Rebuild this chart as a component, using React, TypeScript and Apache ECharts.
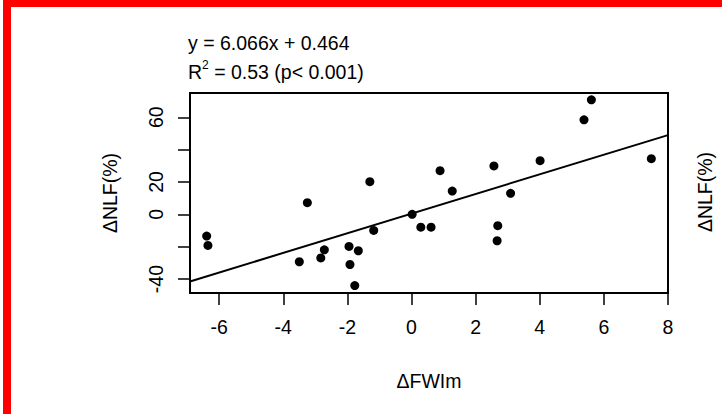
import React, { useEffect, useRef } from "react";
import * as echarts from "echarts";

// ΔFWIm vs ΔNLF(%) observations
const fwiChange: number[] = [
  -6.39, -6.35, -3.25, -3.5, -2.83, -2.72, -1.3, -1.18, -1.95, -1.92, -1.66, -1.77,
  0.02, 0.29, 0.61, 0.89, 1.27, 2.57, 2.69, 2.67, 3.09, 4.01, 5.38, 5.61, 7.48,
];
const nlfChange: number[] = [
  -13.4, -19.2, 7.2, -29.3, -26.9, -21.9, 20.2, -9.9, -19.8, -31.0, -22.5, -44.0,
  0, -7.9, -7.9, 27.0, 14.4, 29.9, -7.0, -16.3, 13.0, 33.2, 58.4, 70.8, 34.4,
];

// Least-squares fit y = slope * x + intercept
const slope = 6.066;
const intercept = 0.464;

// Axis ranges, ticks and labels
const xRange: number[] = [-6.91, 8];
const yRange: number[] = [-48.6, 75];
const xTicks: number[] = [-6, -4, -2, 0, 2, 4, 6, 8];
const yTicks: number[] = [-40, -20, 0, 20, 40, 60];
const yTickLabels: number[] = [-40, 0, 20, 60];

const FONT = "'Liberation Sans', Arial, sans-serif";
const FS = 19.5;

export default function App() {
  const ref = useRef<HTMLDivElement>(null);

  useEffect(() => {
    if (!ref.current) return;
    const chart = echarts.init(ref.current, null, { renderer: "svg" });

    const points = fwiChange.map((x, i) => [x, nlfChange[i]]);
    const fitLine = xRange.map((x) => [x, slope * x + intercept]);

    chart.setOption({
      animation: false,
      backgroundColor: "#fff",
      textStyle: { fontFamily: FONT, color: "#000" },
      grid: {
        left: 190,
        right: 54,
        top: 93,
        bottom: 121,
        show: true,
        borderColor: "#000",
        borderWidth: 2,
        backgroundColor: "transparent",
        outerBoundsMode: "none",
      },
      xAxis: {
        type: "value",
        min: xRange[0],
        max: xRange[1],
        axisLine: { show: false, onZero: false },
        splitLine: { show: false },
        axisTick: {
          show: true,
          length: 12,
          customValues: xTicks,
          lineStyle: { color: "#000", width: 1.5 },
        },
        axisLabel: {
          customValues: xTicks,
          fontSize: FS,
          fontFamily: FONT,
          color: "#000",
          margin: 24,
        },
        name: "ΔFWIm",
        nameLocation: "middle",
        nameGap: 78,
        nameTextStyle: { fontSize: FS, fontFamily: FONT, color: "#000" },
      },
      yAxis: {
        type: "value",
        min: yRange[0],
        max: yRange[1],
        axisLine: { show: false, onZero: false },
        splitLine: { show: false },
        axisTick: {
          show: true,
          length: 12,
          customValues: yTicks,
          lineStyle: { color: "#000", width: 1.5 },
        },
        axisLabel: {
          customValues: yTickLabels,
          rotate: 90,
          fontSize: FS,
          fontFamily: FONT,
          color: "#000",
          margin: 24,
        },
        name: "ΔNLF(%)",
        nameLocation: "middle",
        nameRotate: 90,
        nameGap: 70,
        nameTextStyle: { fontSize: FS, fontFamily: FONT, color: "#000" },
      },
      series: [
        {
          type: "line",
          data: fitLine,
          showSymbol: false,
          symbol: "none",
          lineStyle: { color: "#000", width: 2 },
          z: 2,
        },
        {
          type: "scatter",
          data: points,
          symbol: "circle",
          symbolSize: 9,
          itemStyle: { color: "#000", opacity: 1 },
          z: 3,
        },
      ],
      graphic: [
        { type: "rect", shape: { x: 3, y: 0, width: 719, height: 7 }, style: { fill: "#ff0000" } },
        { type: "rect", shape: { x: 3, y: 0, width: 8, height: 414 }, style: { fill: "#ff0000" } },
        {
          type: "text",
          x: 188,
          y: 43,
          style: {
            text: "y = 6.066x + 0.464",
            font: `${FS}px ${FONT}`,
            fill: "#000",
            verticalAlign: "middle",
          },
        },
        {
          type: "text",
          x: 188,
          y: 72,
          style: {
            text: "{r|R}{s|2}{r| = 0.53 (p< 0.001)}",
            verticalAlign: "middle",
            rich: {
              r: { fontSize: FS, fontFamily: FONT, fill: "#000", lineHeight: 26 },
              s: { fontSize: 12, fontFamily: FONT, fill: "#000", verticalAlign: "top", lineHeight: 26 },
            },
          },
        },
        {
          type: "text",
          x: 705,
          y: 192,
          rotation: Math.PI / 2,
          style: {
            text: "ΔNLF(%)",
            font: `${FS}px ${FONT}`,
            fill: "#000",
            align: "center",
            verticalAlign: "middle",
          },
        },
      ],
    });

    return () => chart.dispose();
  }, []);

  return (
    <div
      ref={ref}
      style={{ position: "absolute", left: 0, top: 0, width: 722, height: 414 }}
    />
  );
}
